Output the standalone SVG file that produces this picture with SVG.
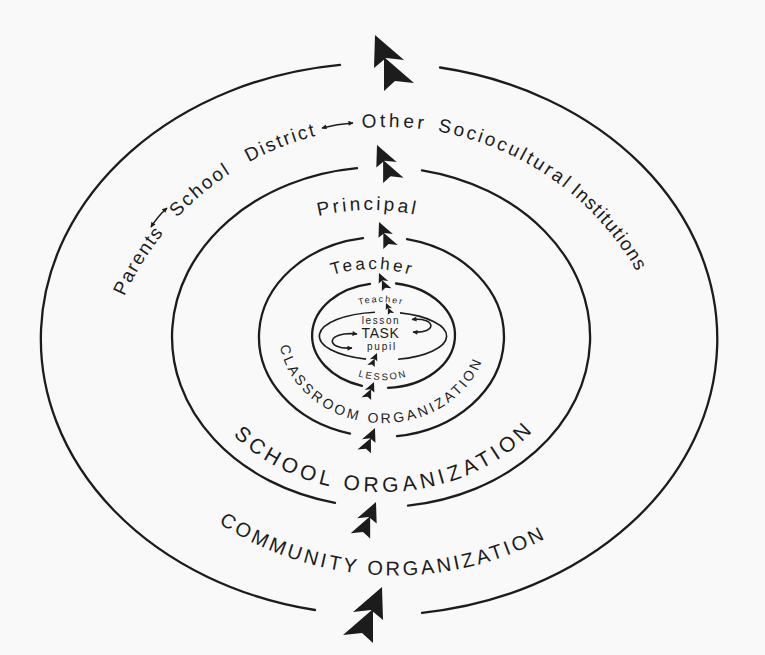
<svg xmlns="http://www.w3.org/2000/svg" xmlns:xlink="http://www.w3.org/1999/xlink" width="765" height="655" viewBox="0 0 765 655">
  <style>
    .ring { fill: none; stroke: #1c1c1c; stroke-width: 2.3; stroke-linecap: round; }
    .loop { fill: none; stroke: #1c1c1c; stroke-width: 1.6; }
    .txt { font-family: "Liberation Sans", Arial, Helvetica, sans-serif; fill: #1c1c1c; }
    .head { fill: #1c1c1c; }
  </style>
  <defs>
    <!-- double arrowhead, leaning right, tip at origin -->
    <path id="chev" d="M0,0 L29,25 L11,23 L-1,33 Z M9,22 L39,48 L20,46 L9,56 Z"/>
    <marker id="tip" viewBox="0 0 10 10" refX="9" refY="5" markerWidth="6" markerHeight="5" orient="auto-start-reverse" markerUnits="userSpaceOnUse">
      <path d="M0,0 L10,5 L0,10 Z" fill="#1c1c1c"/>
    </marker>
    <!-- baselines for curved labels -->
    <path id="arc-top" d="M99,415 A288,288 0 0 1 675,415"/>
    <path id="arc-principal" d="M300,221.4 A220,220 0 0 1 450,225.1"/>
    <path id="arc-teacher" d="M300,290.8 A130,130 0 0 1 445,291.4"/>
    <path id="arc-teacher-s" d="M340,313.3 A80,80 0 0 1 422,313.3"/>
    <path id="arc-lesson" d="M340,367.5 A80,80 0 0 0 426,367.5"/>
    <path id="arc-classroom" d="M279,333 A104,90 0 0 0 487,333"/>
    <path id="arc-school" d="M190,337 A191,155 0 0 0 572,337"/>
    <path id="arc-community" d="M97.6,380 A324,324 0 0 0 692.4,380"/>
  </defs>

  <rect width="765" height="655" fill="#f9f9f9"/>

  <!-- community ring -->
  <g id="community-ring">
    <path class="ring" d="M340,64.8 A338,276 0 0 0 315,610"/>
    <path class="ring" d="M440,67.5 A338,276 0 0 1 422,612.8"/>
    <text class="txt" font-size="20" letter-spacing="3"><textPath href="#arc-community" startOffset="190">COMMUNITY ORGANIZATION</textPath></text>
  </g>

  <!-- outer institutions -->
  <g id="institutions">
    <text class="txt" font-size="19" letter-spacing="1.5"><textPath href="#arc-top" startOffset="122">Parents</textPath></text>
    <text class="txt" font-size="19" letter-spacing="2.3"><textPath href="#arc-top" startOffset="217">School</textPath></text>
    <text class="txt" font-size="19" letter-spacing="2"><textPath href="#arc-top" startOffset="308">District</textPath></text>
    <text class="txt" font-size="19" letter-spacing="3.5"><textPath href="#arc-top" startOffset="427">Other</textPath></text>
    <text class="txt" font-size="19" letter-spacing="2.6"><textPath href="#arc-top" startOffset="503">Sociocultural</textPath></text>
    <text class="txt" font-size="19" letter-spacing="1.2"><textPath href="#arc-top" startOffset="650">Institutions</textPath></text>
  </g>

  <!-- school ring -->
  <g id="school-ring">
    <path class="ring" d="M357,168.1 A209,170 0 0 0 335,502.8"/>
    <path class="ring" d="M422,170.3 A209,170 0 0 1 408,505.6"/>
    <text class="txt" font-size="19" letter-spacing="3"><textPath href="#arc-principal" startOffset="19">Principal</textPath></text>
    <text class="txt" font-size="21" letter-spacing="4.3"><textPath href="#arc-school" startOffset="110">SCHOOL ORGANIZATION</textPath></text>
  </g>

  <!-- classroom ring -->
  <g id="classroom-ring">
    <path class="ring" d="M363,238.1 A122.5,100 0 0 0 350,433.6"/>
    <path class="ring" d="M407,239.2 A122.5,100 0 0 1 397,436.2"/>
    <text class="txt" font-size="17" letter-spacing="3"><textPath href="#arc-teacher" startOffset="36">Teacher</textPath></text>
    <text class="txt" font-size="14" letter-spacing="3"><textPath href="#arc-classroom" startOffset="13">CLASSROOM ORGANIZATION</textPath></text>
  </g>

  <!-- lesson ring -->
  <g id="lesson-ring">
    <path class="ring" d="M370,283.8 A70,52.5 0 0 0 362,385.8"/>
    <path class="ring" d="M396,283.5 A70,52.5 0 0 1 388,387.8"/>
    <text class="txt" font-size="9" letter-spacing="1.8" text-anchor="middle"><textPath href="#arc-teacher-s" startOffset="50%">Teacher</textPath></text>
    <text class="txt" font-size="9.5" letter-spacing="2" text-anchor="middle"><textPath href="#arc-lesson" startOffset="50%">LESSON</textPath></text>
  </g>

  <!-- task loop -->
  <g id="task-loop">
    <path class="loop" d="M375,312.2 A64,24 0 0 0 366,359.1"/>
    <path class="loop" d="M400,312.9 A64,24 0 0 1 398,359.3"/>
    <text class="txt" font-size="10" letter-spacing="1.6" x="381" y="323.5" text-anchor="middle">lesson</text>
    <text class="txt" font-size="14" letter-spacing="0.6" x="380.5" y="337.5" text-anchor="middle">TASK</text>
    <text class="txt" font-size="10" letter-spacing="1.8" x="382" y="350" text-anchor="middle">pupil</text>
  </g>

  <!-- connectors -->
  <g id="connectors">
    <path class="loop" d="M412,319.5 C437,317 437,334 413,332" marker-start="url(#tip)" marker-end="url(#tip)"/>
    <path class="loop" d="M357,334 C325,331 325,350 352,348" marker-start="url(#tip)" marker-end="url(#tip)"/>
    <path class="loop" stroke-width="1.2" d="M151,227 Q158,216 167,208" marker-start="url(#tip)" marker-end="url(#tip)"/>
    <path class="loop" stroke-width="1.2" d="M322,128 Q337,124 353,123" marker-start="url(#tip)" marker-end="url(#tip)"/>

    <use href="#chev" class="head" transform="translate(375,35)"/>
    <use href="#chev" class="head" transform="translate(377,145) scale(0.68)"/>
    <use href="#chev" class="head" transform="translate(379,222) scale(0.48)"/>
    <use href="#chev" class="head" transform="translate(379,273) scale(0.32)"/>
    <use href="#chev" class="head" transform="translate(386,303) scale(0.21)"/>

    <use href="#chev" class="head" transform="translate(377,353) scale(-0.25,0.25)"/>
    <use href="#chev" class="head" transform="translate(374,382) scale(-0.32,0.32)"/>
    <use href="#chev" class="head" transform="translate(375,428) scale(-0.45,0.45)"/>
    <use href="#chev" class="head" transform="translate(376,502) scale(-0.65,0.65)"/>
    <use href="#chev" class="head" transform="translate(382,587) scale(-1,1)"/>
  </g>
</svg>
